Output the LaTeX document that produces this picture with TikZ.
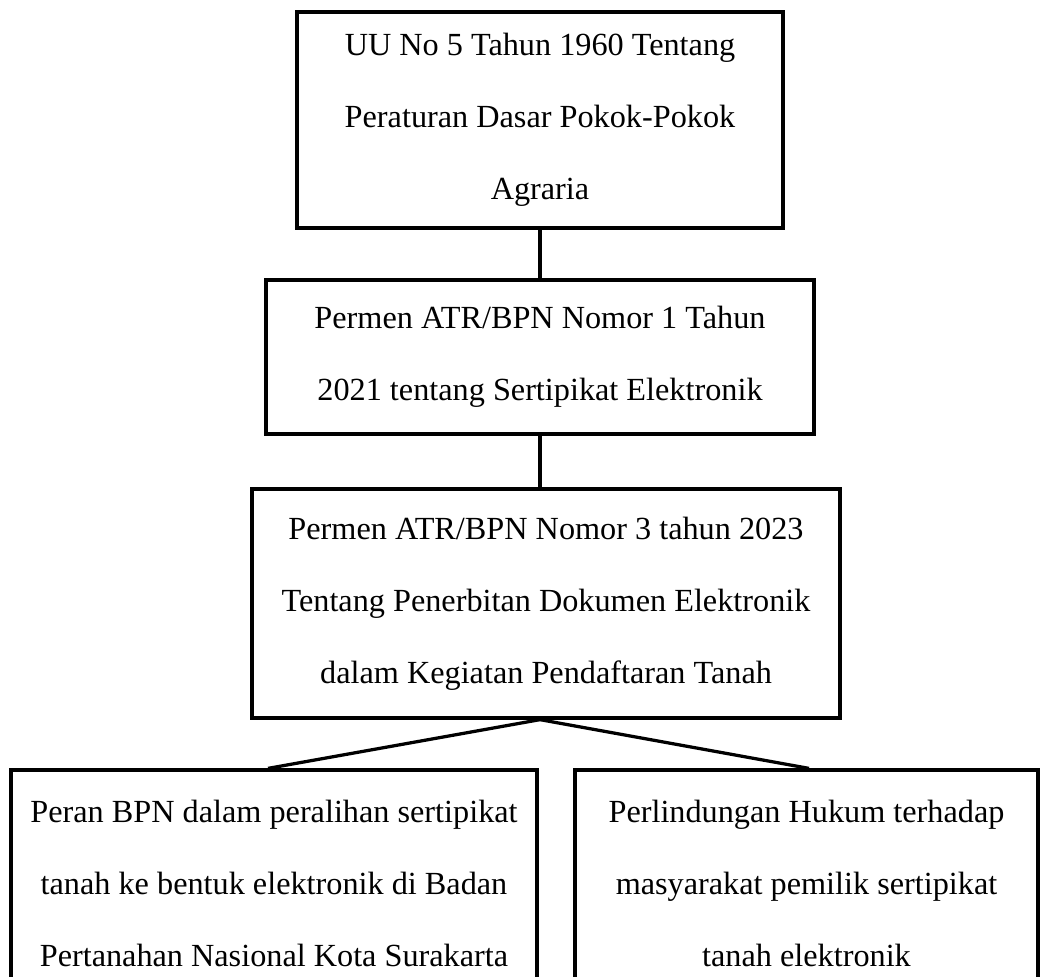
\documentclass[tikz,border=0pt]{standalone}
\usepackage{fontspec}
\setmainfont{Liberation Serif}
\usepackage{tikz}
\usetikzlibrary{positioning,calc}

\begin{document}
\begin{tikzpicture}[
  x=0.4pt, y=-0.4pt,
  box/.style={draw=black, line width=1.3pt, rectangle, align=center, inner sep=0pt,
    font=\fontsize{12.9pt}{28.8pt}\selectfont},
  link/.style={line width=1.3pt, color=black}
]
\clip (0,0) rectangle (1040,976);

\node[box, minimum width=194.4pt, minimum height=86.4pt] (uupa) at (540,120)
  {UU No 5 Tahun 1960 Tentang\\Peraturan Dasar Pokok-Pokok\\Agraria};
\node[box, minimum width=219.2pt, minimum height=61.6pt] (permen1) at (540,357)
  {Permen ATR/BPN Nomor 1 Tahun\\2021 tentang Sertipikat Elektronik};
\node[box, minimum width=235.2pt, minimum height=91.6pt] (permen3) at (546,603.5)
  {Permen ATR/BPN Nomor 3 tahun 2023\\Tentang Penerbitan Dokumen Elektronik\\dalam Kegiatan Pendaftaran Tanah};
\node[box, minimum width=210.4pt, minimum height=90.4pt] (peran) at (274,883)
  {Peran BPN dalam peralihan sertipikat\\tanah ke bentuk elektronik di Badan\\Pertanahan Nasional Kota Surakarta};
\node[box, minimum width=185.2pt, minimum height=90.4pt] (hukum) at (806.5,883)
  {Perlindungan Hukum terhadap\\masyarakat pemilik sertipikat\\tanah elektronik};

% garis hubung
\draw[link] (uupa.south) -- (permen1.north);
\draw[link] (permen1.south) -- (permen1.south |- permen3.north);
\coordinate (cabang) at (permen3.south -| permen1.south);
\draw[link] (cabang) -- ($(peran.north)+(-6,0)$);
\draw[link] (cabang) -- ($(hukum.north)+(2.5,0)$);
\end{tikzpicture}
\end{document}
